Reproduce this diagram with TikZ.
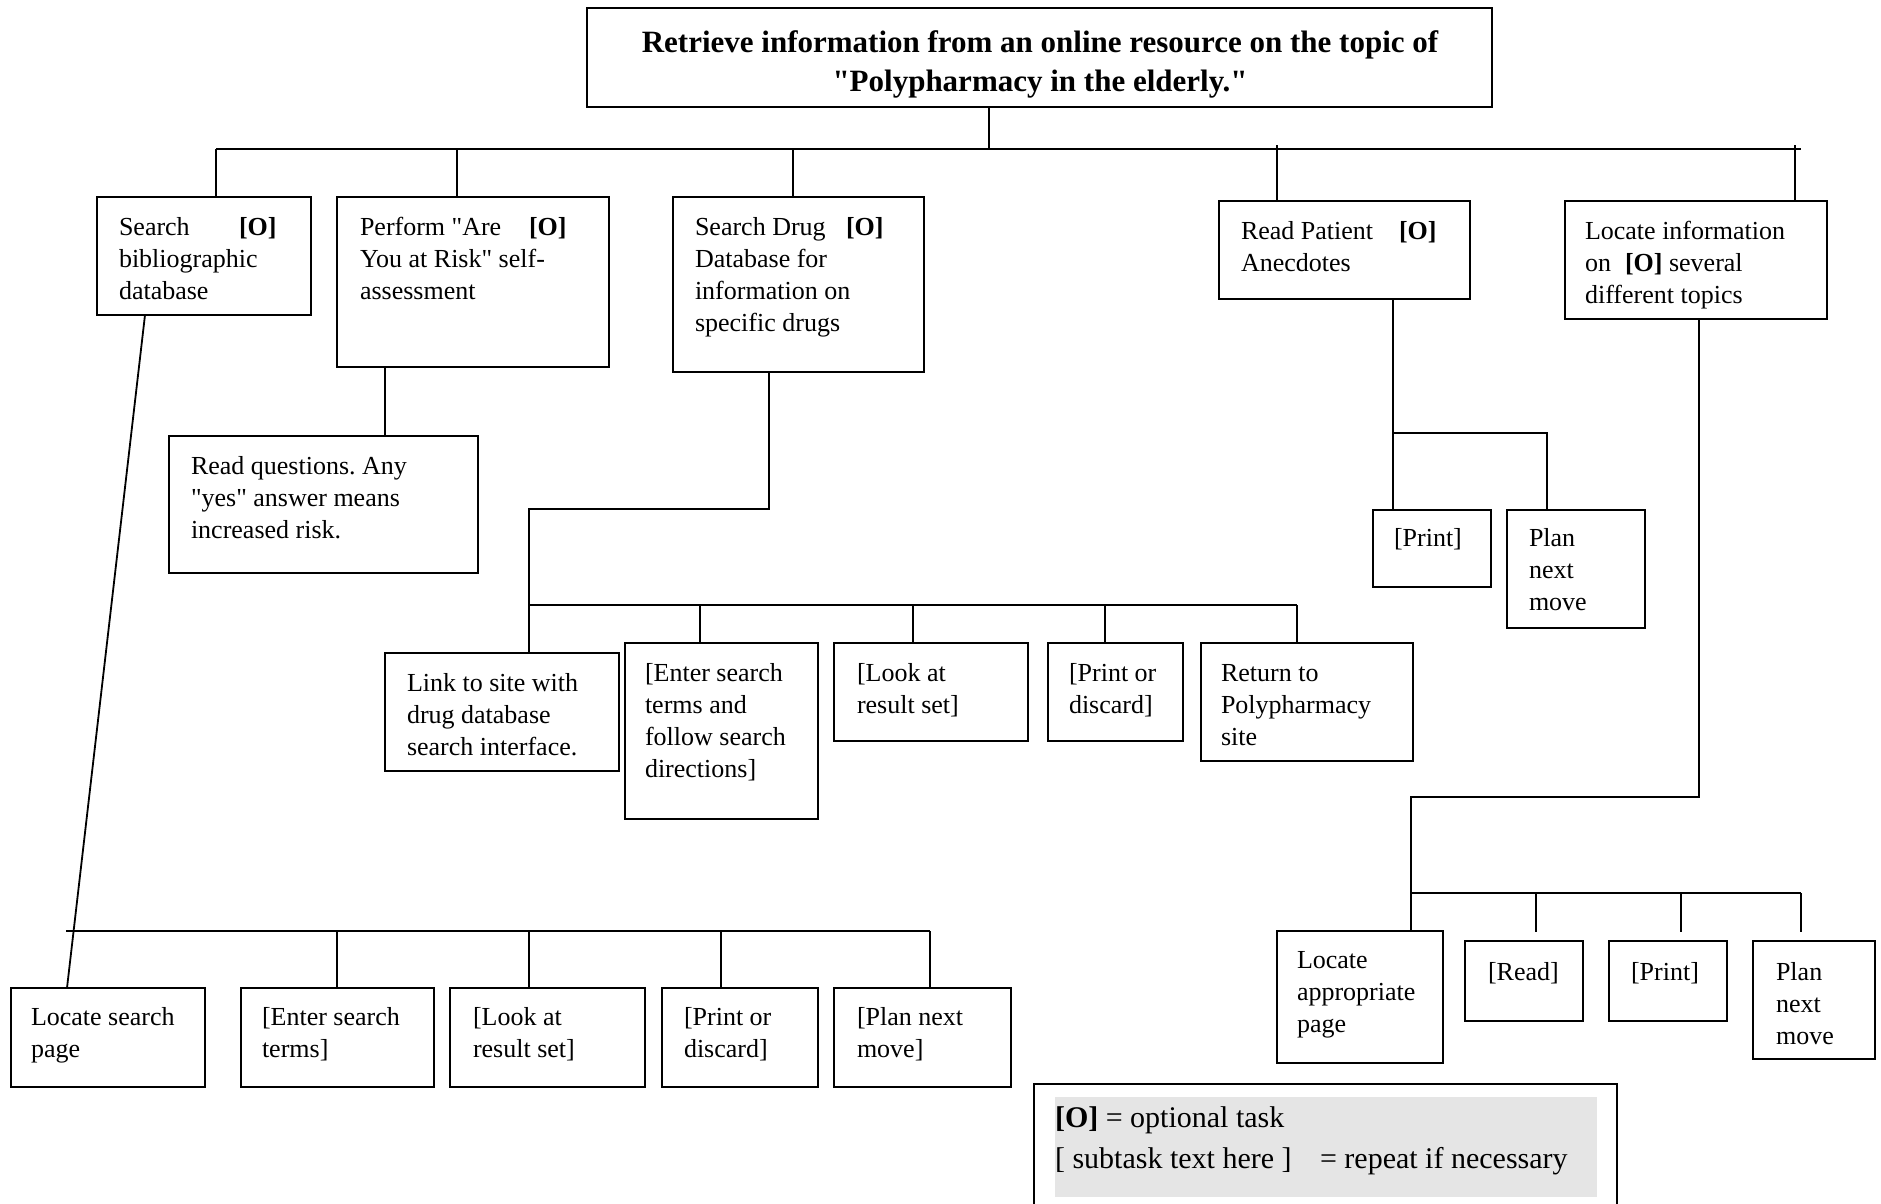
\documentclass[tikz,border=0pt]{standalone}
\usepackage{fontspec}
\setmainfont{Liberation Serif}
\newfontfamily\tnr{Liberation Serif}
\tikzset{
  box/.style={draw, line width=2.2pt, rectangle, inner sep=0pt, outer sep=0pt, anchor=north west},
  txt/.style={inner sep=0pt, outer sep=0pt, align=left, anchor=north west, font=\tnr\frenchspacing\fontsize{26}{32}\selectfont},
  conn/.style={line width=1.8pt},
}
\newcommand\bx[5]{\node[box, minimum width={(#4-#2)*1pt}, minimum height={(#5-#3)*1pt}] (#1) at (#2,#3) {};}
\newcommand\tx[4]{\node[txt] (#1t) at ([xshift=#2pt, yshift=-#3pt]#1.north west) {\strut #4};}
\begin{document}
\begin{tikzpicture}[x=1pt, y=-1pt]
\fill[white] (0,0) rectangle (1881,1203);
\useasboundingbox (0,0) rectangle (1881,1203);

% title
\bx{top}{587}{8}{1492}{107}
\node[inner sep=0pt, outer sep=0pt, align=center, anchor=north, font=\tnr\fontsize{31}{39}\selectfont\bfseries] (ttl) at (1040,25.1)
  {\strut Retrieve information from an online resource on the topic of\\"Polypharmacy in the elderly."};

% first level
\bx{b1}{97}{197}{311}{315}
\tx{b1}{22}{15.6}{\makebox[120pt][l]{Search}\textbf{[O]}\\bibliographic\\database}
\bx{b2}{337}{197}{609}{367}
\tx{b2}{23}{15.6}{\makebox[169pt][l]{Perform "Are}\textbf{[O]}\\You at Risk" self-\\assessment}
\bx{b3}{673}{197}{924}{372}
\tx{b3}{22}{15.6}{\makebox[151pt][l]{Search Drug}\textbf{[O]}\\Database for\\information on\\specific drugs}
\bx{b4}{1219}{201}{1470}{299}
\tx{b4}{22}{15.6}{\makebox[158pt][l]{Read Patient}\textbf{[O]}\\Anecdotes}
\bx{b5}{1565}{201}{1827}{319}
\tx{b5}{20}{15.6}{Locate information\\\makebox[40pt][l]{on}\textbf{[O]} several\\different topics}

% read questions
\bx{rq}{169}{436}{478}{573}
\tx{rq}{22}{15.6}{Read questions. Any\\"yes" answer means\\increased risk.}

% drug database children
\bx{m1}{385}{653}{619}{771}
\tx{m1}{22}{15.6}{Link to site with\\drug database\\search interface.}
\bx{m2}{625}{643}{818}{819}
\tx{m2}{20}{15.6}{[Enter search\\terms and\\follow search\\directions]}
\bx{m3}{834}{643}{1028}{741}
\tx{m3}{23}{15.6}{[Look at\\result set]}
\bx{m4}{1048}{643}{1183}{741}
\tx{m4}{21}{15.6}{[Print or\\discard]}
\bx{m5}{1201}{643}{1413}{761}
\tx{m5}{20}{15.6}{Return to\\Polypharmacy\\site}

% patient anecdotes children
\bx{r1}{1373}{510}{1491}{587}
\tx{r1}{21}{13.6}{[Print]}
\bx{r2}{1507}{510}{1645}{628}
\tx{r2}{22}{13.6}{Plan\\next\\move}

% several topics children
\bx{s1}{1277}{931}{1443}{1063}
\tx{s1}{20}{14.6}{Locate\\appropriate\\page}
\bx{s2}{1465}{941}{1583}{1021}
\tx{s2}{23}{16.6}{[Read]}
\bx{s3}{1609}{941}{1727}{1021}
\tx{s3}{22}{16.6}{[Print]}
\bx{s4}{1753}{941}{1875}{1059}
\tx{s4}{23}{16.6}{Plan\\next\\move}

% bibliographic children
\bx{l1}{11}{988}{205}{1087}
\tx{l1}{20}{14.6}{Locate search\\page}
\bx{l2}{241}{988}{434}{1087}
\tx{l2}{21}{14.6}{[Enter search\\terms]}
\bx{l3}{450}{988}{645}{1087}
\tx{l3}{23}{14.6}{[Look at\\result set]}
\bx{l4}{662}{988}{818}{1087}
\tx{l4}{22}{14.6}{[Print or\\discard]}
\bx{l5}{834}{988}{1011}{1087}
\tx{l5}{23}{14.6}{[Plan next\\move]}

% legend
\node[box, minimum width=583pt, minimum height=160pt] (leg) at (1034,1084) {};
\fill[gray!20] (1055,1097) rectangle (1597,1197);
\node[inner sep=0pt, outer sep=0pt, align=left, anchor=north west, font=\tnr\fontsize{30}{41}\selectfont] (legt) at (1055,1098.3)
  {\strut\textbf{[O]} = optional task\\\relax\makebox[265pt][l]{[ subtask text here ]}= repeat if necessary};

% connectors: top level
\draw[conn] (989,0 |- top.south) -- (989,149);
\draw[conn] (216,149) -- (1801,149);
\draw[conn] (216,149) -- (216,0 |- b1.north);
\draw[conn] (457,149) -- (457,0 |- b2.north);
\draw[conn] (793,149) -- (793,0 |- b3.north);
\draw[conn] (1277,145) -- (1277,0 |- b4.north);
\draw[conn] (1795,145) -- (1795,0 |- b5.north);

% bibliographic
\draw[conn] (145,0 |- b1.south) -- (67,0 |- l1.north);
\draw[conn] (66,931) -- (930,931);
\draw[conn] (337,931) -- (337,0 |- l2.north);
\draw[conn] (529,931) -- (529,0 |- l3.north);
\draw[conn] (721,931) -- (721,0 |- l4.north);
\draw[conn] (930,931) -- (930,0 |- l5.north);

% self assessment
\draw[conn] (385,0 |- b2.south) -- (385,0 |- rq.north);

% drug database
\draw[conn] (769,0 |- b3.south) -- (769,509) -- (529,509) -- (529,0 |- m1.north);
\draw[conn] (529,605) -- (1297,605);
\draw[conn] (700,605) -- (700,0 |- m2.north);
\draw[conn] (913,605) -- (913,0 |- m3.north);
\draw[conn] (1105,605) -- (1105,0 |- m4.north);
\draw[conn] (1297,605) -- (1297,0 |- m5.north);

% patient anecdotes
\draw[conn] (1393,0 |- b4.south) -- (1393,0 |- r1.north);
\draw[conn] (1393,433) -- (1547,433) -- (1547,0 |- r2.north);

% several topics
\draw[conn] (1699,0 |- b5.south) -- (1699,797) -- (1411,797) -- (1411,0 |- s1.north);
\draw[conn] (1411,893) -- (1801,893);
\draw[conn] (1536,893) -- ++(0,39);
\draw[conn] (1681,893) -- ++(0,39);
\draw[conn] (1801,893) -- ++(0,39);
\end{tikzpicture}
\end{document}
